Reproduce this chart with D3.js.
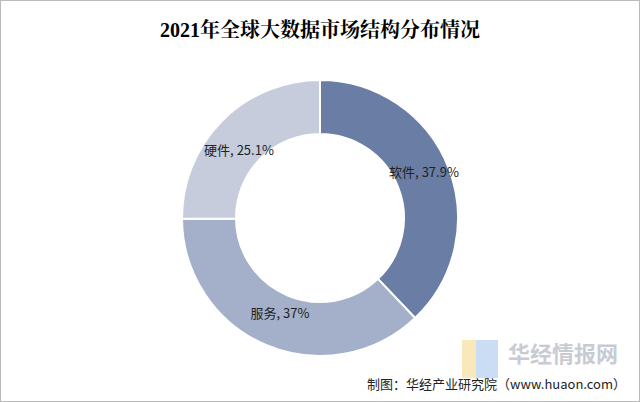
<!DOCTYPE html><html><head><meta charset="utf-8"><script src="https://cdn.jsdelivr.net/npm/d3@7"></script>
<style>body{margin:0;background:#fff}</style></head><body><svg id="c" width="640" height="402"></svg>
<script>
const categories=["软件","服务","硬件"];
const values=[37.9,37,25.1];
const labels=["软件, 37.9%","服务, 37%","硬件, 25.1%"];
const colors=["#6a7da5","#a4b0c9","#c6ccdc"];
const svg=d3.select("#c");
svg.append("rect").attr("x",0.5).attr("y",0.5).attr("width",639).attr("height",401).attr("fill","#fff").attr("stroke","#bbb");
svg.append("text").attr("x",320).attr("y",37).attr("text-anchor","middle").attr("font-family","'Liberation Serif','Noto Serif CJK SC','Noto Sans CJK SC',serif").attr("font-weight","bold").attr("font-size",20).text("2021年全球大数据市场结构分布情况");
const pie=d3.pie().sort(null)(values);
const arc=d3.arc().innerRadius(84).outerRadius(138);
const g=svg.append("g").attr("transform","translate(320,218)");
g.selectAll("path").data(pie).join("path").attr("d",arc).attr("fill",(d,i)=>colors[i]).attr("stroke","#fff").attr("stroke-width",2);
const lpos=[[424,172],[280,313],[239,150]];
svg.selectAll(".lb").data(labels).join("text").attr("x",(d,i)=>lpos[i][0]).attr("y",(d,i)=>lpos[i][1]+5).attr("text-anchor","middle").attr("font-family","'Noto Sans CJK SC',sans-serif").attr("font-size",13).attr("fill","#222").text(d=>d);
svg.append("rect").attr("x",462).attr("y",340).attr("width",14).attr("height",38).attr("fill","#f5d98a").attr("opacity",0.6);
svg.append("rect").attr("x",476).attr("y",340).attr("width",22).attr("height",38).attr("fill","#a9c6ee").attr("opacity",0.6);
svg.append("text").attr("x",508).attr("y",362).attr("font-family","'Noto Sans CJK SC',sans-serif").attr("font-size",22).attr("font-weight","bold").attr("fill","#c8ccd2").text("华经情报网");
svg.append("text").attr("x",626).attr("y",389).attr("text-anchor","end").attr("font-family","'Noto Sans CJK SC',sans-serif").attr("font-size",13).attr("fill","#222").text("制图：华经产业研究院（www.huaon.com）");
</script></body></html>
